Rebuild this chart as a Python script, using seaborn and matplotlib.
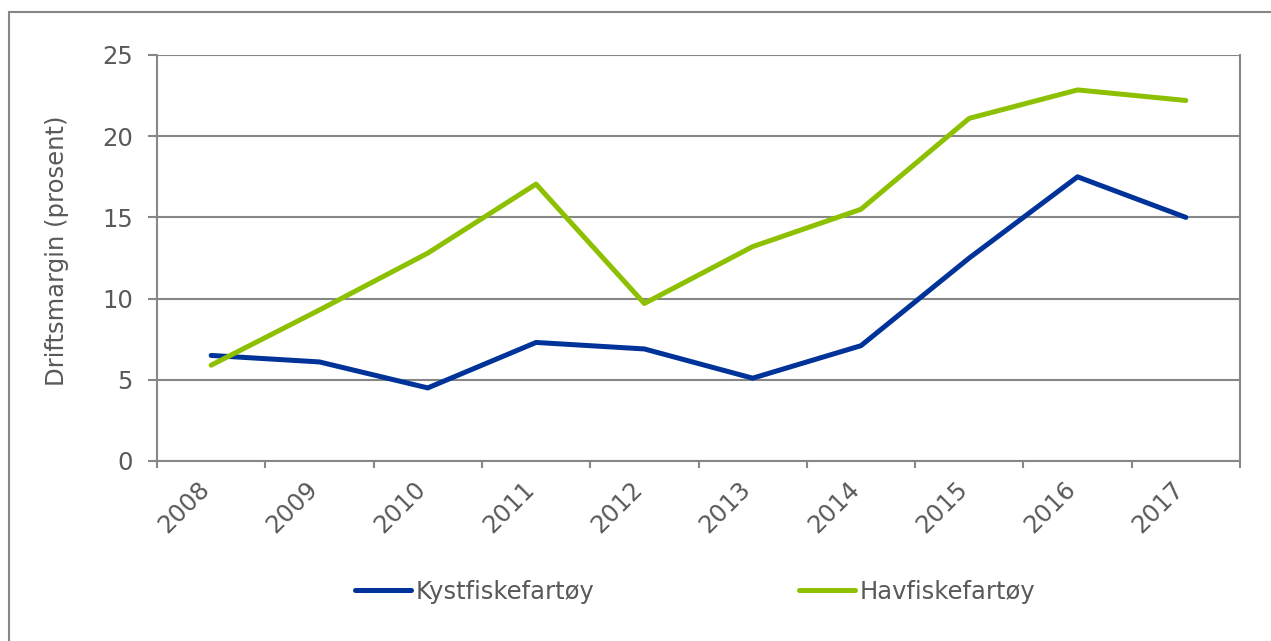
import matplotlib
matplotlib.use("Agg")
import matplotlib.pyplot as plt
import matplotlib.transforms as mtransforms
import seaborn as sns
import pandas as pd
import numpy as np
from matplotlib.lines import Line2D

years = ["2008", "2009", "2010", "2011", "2012", "2013", "2014", "2015", "2016", "2017"]
kystfiskefartoy = [6.5, 6.1, 4.5, 7.3, 6.9, 5.1, 7.1, 12.5, 17.5, 15.0]
havfiskefartoy = [5.9, 9.3, 12.8, 17.05, 9.7, 13.2, 15.5, 21.1, 22.85, 22.2]
series_names = ["Kystfiskefartøy", "Havfiskefartøy"]
y_ticks = [0, 5, 10, 15, 20, 25]
y_label = "Driftsmargin (prosent)"

colors = {"Kystfiskefartøy": "#003399", "Havfiskefartøy": "#8dc000"}
grey = "#878787"
text_col = "#595959"
fs = 17.5

df = pd.DataFrame({
    "pos": list(range(len(years))) * 2,
    "value": kystfiskefartoy + havfiskefartoy,
    "series": [series_names[0]] * len(years) + [series_names[1]] * len(years),
})

sns.set_theme(style="white")
plt.rcParams["font.family"] = ["DejaVu Sans"]

W, H = 1271, 641
fig = plt.figure(figsize=(W / 100, H / 100), dpi=100)
L, R, T, B = 157, 1240, 55, 461
ax = fig.add_axes([L / W, 1 - B / H, (R - L) / W, (B - T) / H])

sns.lineplot(data=df, x="pos", y="value", hue="series", palette=colors,
             ax=ax, linewidth=3.6, legend=False, zorder=3,
             solid_joinstyle="round", solid_capstyle="round")

ax.set_xlim(-0.5, len(years) - 0.5)
ax.set_ylim(0, 25)
ax.set_yticks(y_ticks)
ax.set_yticklabels([str(v) for v in y_ticks])
ax.set_xticks(range(len(years)))
ax.set_xticklabels(years, rotation=45, ha="right", va="top")
ax.set_xticks(np.arange(-0.5, len(years), 1.0), minor=True)
ax.tick_params(axis="x", which="major", length=0, pad=11.5, labelsize=fs, labelcolor=text_col)
ax.tick_params(axis="x", which="minor", length=5, width=1.5, color=grey, direction="out", bottom=True)
ax.tick_params(axis="y", which="major", length=6.5, width=1.5, color=grey, direction="out",
               left=True, pad=11, labelsize=fs, labelcolor=text_col)

offset = mtransforms.ScaledTranslation(3 / 100, 0, fig.dpi_scale_trans)
for lab in ax.get_xticklabels():
    lab.set_transform(lab.get_transform() + offset)

ax.yaxis.grid(True, color=grey, linewidth=1.5)
ax.xaxis.grid(False)
ax.set_axisbelow(True)
for side in ["left", "bottom", "right"]:
    ax.spines[side].set_visible(True)
    ax.spines[side].set_color(grey)
    ax.spines[side].set_linewidth(1.5)
ax.spines["top"].set_visible(False)

ax.set_xlabel("")
ax.set_ylabel(y_label, fontsize=fs, color=text_col)
ax.yaxis.set_label_coords((69 - L) / (R - L), (B - 251) / (B - T))

handles = [Line2D([0], [0], color=colors[n], linewidth=3.6, solid_capstyle="round") for n in series_names]
leg = ax.legend(handles, series_names, loc="center",
                bbox_to_anchor=(695 / W, 1 - 592 / H), bbox_transform=fig.transFigure,
                ncol=2, frameon=False, handlelength=2.3, handletextpad=0.2,
                columnspacing=8.4, fontsize=fs)
for t in leg.get_texts():
    t.set_color(text_col)

# outer chart frame (left and top edges visible in the reference)
fig.add_artist(Line2D([9 / W, 9 / W], [0, 1 - 12 / H], transform=fig.transFigure,
                      color=grey, linewidth=1.5))
fig.add_artist(Line2D([9 / W, 1.0], [1 - 12 / H, 1 - 12 / H], transform=fig.transFigure,
                      color=grey, linewidth=1.5))

fig.savefig("out.png", dpi=100, facecolor="white")
